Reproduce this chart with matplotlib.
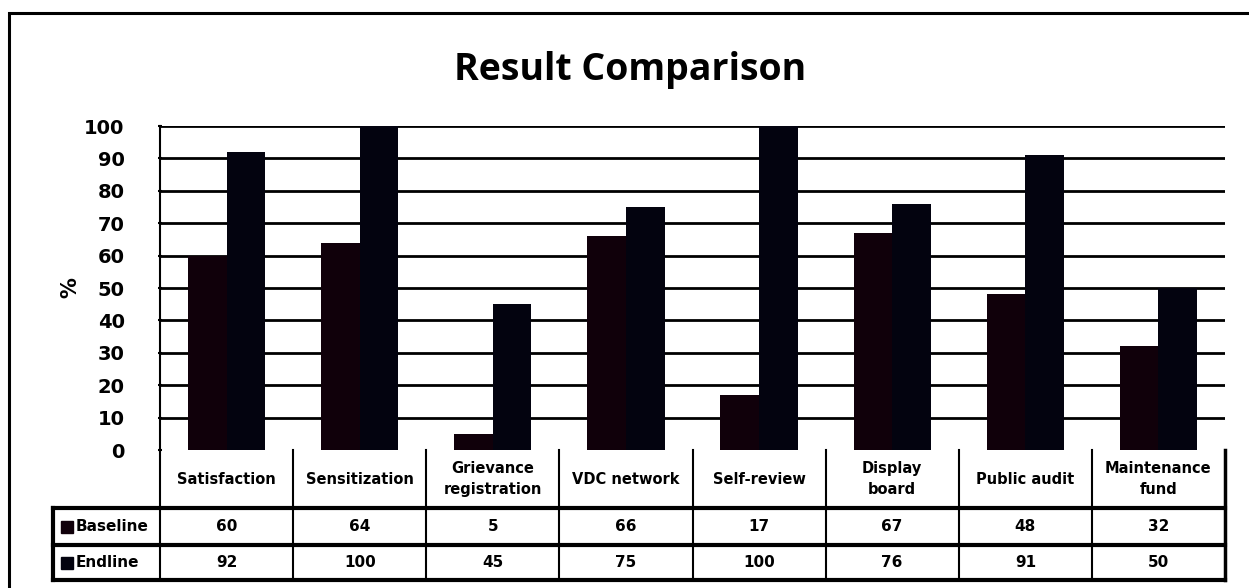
import matplotlib
matplotlib.use("Agg")
import matplotlib.pyplot as plt
import numpy as np
from matplotlib.patches import Rectangle
from matplotlib.lines import Line2D

categories = ["Satisfaction", "Sensitization", "Grievance\nregistration", "VDC network",
              "Self-review", "Display\nboard", "Public audit", "Maintenance\nfund"]
baseline = [60, 64, 5, 66, 17, 67, 48, 32]
endline = [92, 100, 45, 75, 100, 76, 91, 50]
series_names = ["Baseline", "Endline"]
yticks = [0, 10, 20, 30, 40, 50, 60, 70, 80, 90, 100]

c_base = "#10000a"
c_end = "#03030f"

W, H = 1249, 588
fig = plt.figure(figsize=(W / 100, H / 100), dpi=100)
fig.patch.set_facecolor("white")

def fx(x):
    return x / W

def fy(y):
    return 1 - y / H

# axes geometry in pixels
L, R, T, B = 160, 1225, 126, 450
ax = fig.add_axes([fx(L), fy(B), fx(R - L), (B - T) / H])
x = np.arange(len(categories))
bw = 0.29
ax.bar(x - bw / 2, baseline, bw, color=c_base, zorder=3)
ax.bar(x + bw / 2, endline, bw, color=c_end, zorder=3)
ax.set_xlim(-0.5, len(categories) - 0.5)
ax.set_ylim(0, 100)
ax.set_yticks(yticks)
ax.set_yticklabels([str(v) for v in yticks], fontsize=14, fontweight="bold",
                   family="DejaVu Sans")
ax.tick_params(axis="y", length=3, width=1.5, pad=24, direction="inout")
ax.set_xticks([])
for yv in yticks[1:]:
    ax.axhline(yv, color="black", lw=2, zorder=1)
for s in ["top", "right", "bottom"]:
    ax.spines[s].set_visible(False)
ax.spines["left"].set_linewidth(1.5)
ax.set_ylabel("%", fontsize=15, fontweight="bold")
ax.yaxis.set_label_coords((80 - L) / (R - L), 0.5)

# Title
fig.text(fx(630), fy(70), "Result Comparison", ha="center", va="center",
         fontsize=27, fontweight="bold", family="Open Sans")

# Outer border
fig.add_artist(Rectangle((fx(9), fy(H + 20)), fx(W + 40), (H + 20 - 13) / H,
                         transform=fig.transFigure, fill=False, lw=2.2,
                         edgecolor="black"))

def line(x0, y0, x1, y1, lw=1.5):
    fig.add_artist(Line2D([fx(x0), fx(x1)], [fy(y0), fy(y1)],
                          transform=fig.transFigure, color="black", lw=lw))

# Table
TL = 53
hdr_b, r1_b, r2_b = 508, 545, 580
colw = (R - L) / len(categories)
line(L, B, L, r2_b, 1.5)
line(R, B, R, r2_b, 2.5)
for i in range(1, len(categories)):
    xv = L + i * colw
    line(xv, B, xv, r2_b, 1.5)
line(TL, hdr_b, R, hdr_b, 3)
line(TL, r1_b, R, r1_b, 3)
line(TL, r2_b, R, r2_b, 3)
line(TL, hdr_b, TL, r2_b, 3)

for i, cat in enumerate(categories):
    cx = L + (i + 0.5) * colw
    fig.text(fx(cx), fy((B + hdr_b) / 2), cat, ha="center", va="center",
             fontsize=10.5, fontweight="bold", linespacing=1.5)
    fig.text(fx(cx), fy((hdr_b + r1_b) / 2), str(baseline[i]), ha="center",
             va="center", fontsize=11, fontweight="bold")
    fig.text(fx(cx), fy((r1_b + r2_b) / 2), str(endline[i]), ha="center",
             va="center", fontsize=11, fontweight="bold")

for (yt, yb), name, col in zip([(hdr_b, r1_b), (r1_b, r2_b)], series_names,
                               [c_base, c_end]):
    ym = (yt + yb) / 2
    fig.add_artist(Rectangle((fx(61), fy(ym + 6)), fx(12), 12 / H,
                             transform=fig.transFigure, color=col))
    fig.text(fx(76), fy(ym), name, ha="left", va="center", fontsize=11,
             fontweight="bold")

fig.savefig("out.png", dpi=100, facecolor="white")
